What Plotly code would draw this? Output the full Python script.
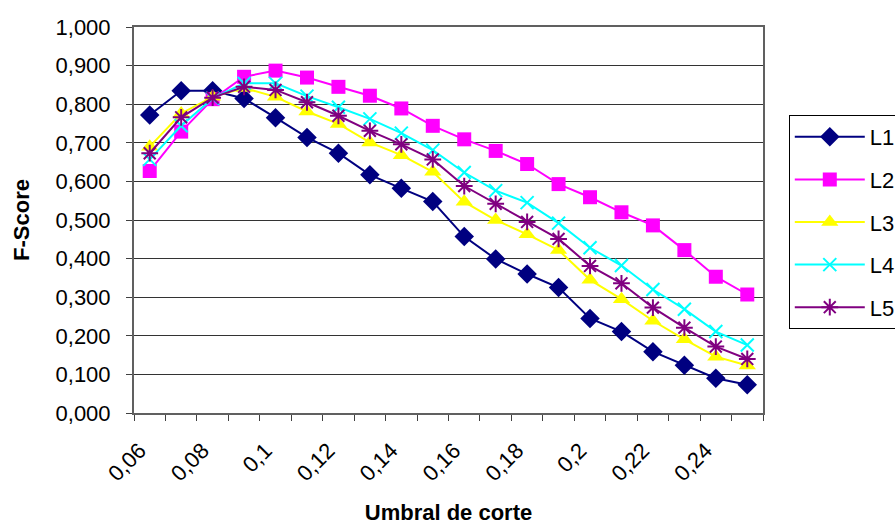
import plotly.graph_objects as go

# Cut-off thresholds (x) and F-Score per list
umbral = [0.06, 0.07, 0.08, 0.09, 0.10, 0.11, 0.12, 0.13, 0.14, 0.15,
          0.16, 0.17, 0.18, 0.19, 0.20, 0.21, 0.22, 0.23, 0.24, 0.25]

l1 = [0.772, 0.835, 0.835, 0.815, 0.765, 0.714, 0.673, 0.617, 0.582, 0.548,
      0.457, 0.399, 0.360, 0.325, 0.245, 0.211, 0.159, 0.124, 0.090, 0.073]
l2 = [0.627, 0.729, 0.813, 0.871, 0.887, 0.869, 0.845, 0.822, 0.789, 0.744,
      0.709, 0.679, 0.645, 0.593, 0.559, 0.520, 0.486, 0.422, 0.353, 0.307]
l3 = [0.690, 0.776, 0.819, 0.842, 0.819, 0.781, 0.749, 0.701, 0.668, 0.625,
      0.547, 0.500, 0.463, 0.422, 0.345, 0.295, 0.239, 0.191, 0.146, 0.123]
l4 = [0.657, 0.744, 0.815, 0.854, 0.854, 0.821, 0.792, 0.762, 0.725, 0.681,
      0.623, 0.576, 0.545, 0.492, 0.428, 0.382, 0.320, 0.269, 0.211, 0.176]
l5 = [0.673, 0.766, 0.817, 0.845, 0.837, 0.805, 0.770, 0.731, 0.696, 0.657,
      0.588, 0.542, 0.495, 0.451, 0.381, 0.336, 0.273, 0.221, 0.172, 0.140]

tick_vals = [0.06, 0.08, 0.10, 0.12, 0.14, 0.16, 0.18, 0.20, 0.22, 0.24]
tick_text = ["0,06", "0,08", "0,1", "0,12", "0,14", "0,16", "0,18", "0,2", "0,22", "0,24"]

series = [
    ("L1", l1, "#000080", dict(symbol="diamond", size=15)),
    ("L2", l2, "#FF00FF", dict(symbol="square", size=14)),
    ("L3", l3, "#FFFF00", dict(symbol="triangle-up", size=15)),
    ("L4", l4, "#00FFFF", dict(symbol="x-thin-open", size=13, line=dict(width=2))),
    ("L5", l5, "#800080", dict(symbol="asterisk-open", size=14, line=dict(width=2))),
]

FONT = "Liberation Sans, Arial, sans-serif"

fig = go.Figure()
for name, vals, color, mk in series:
    marker = dict(color=color, **mk)
    if "line" in marker:
        marker["line"] = dict(color=color, **mk["line"])
    fig.add_trace(go.Scatter(
        x=umbral, y=vals, name=name, legendgroup=name, mode="lines+markers",
        line=dict(color=color, width=2), marker=marker,
    ))

fig.update_layout(
    width=895, height=525,
    margin=dict(l=134, r=132, t=27, b=112, autoexpand=False),
    paper_bgcolor="white", plot_bgcolor="white",
    separators=",.",
    font=dict(family=FONT, size=21, color="black"),
    showlegend=True,
    legend=dict(
        x=1.041, y=0.772, xanchor="left", yanchor="top",
        bordercolor="black", borderwidth=1, bgcolor="white",
        font=dict(family=FONT, size=22),
        itemwidth=70, tracegroupgap=11,
    ),
    xaxis=dict(
        range=[0.055, 0.255], tickmode="array", tickvals=tick_vals, ticktext=tick_text,
        tickangle=-45, ticks="", showgrid=False, zeroline=False,
        showline=True, linecolor="#606060", linewidth=2, mirror=True,
        tickfont=dict(family=FONT, size=22),
        ticklabelstandoff=14, ticklabelshift=-10,
        minor=dict(tick0=0.055, dtick=0.01, ticks="outside", ticklen=6,
                   tickcolor="#404040", tickwidth=1, showgrid=False),
        title=dict(text="<b>Umbral de corte</b>", font=dict(family=FONT, size=22), standoff=28),
    ),
    yaxis=dict(
        range=[0, 1.0], dtick=0.1, tick0=0, tickformat=".3f",
        ticks="outside", ticklen=6, tickcolor="#404040",
        showgrid=True, gridcolor="#333333", gridwidth=1, zeroline=False,
        showline=True, linecolor="#606060", linewidth=2, mirror=True,
        tickfont=dict(family=FONT, size=22), ticklabelstandoff=11,
        title=dict(text="<b>F-Score</b>", font=dict(family=FONT, size=22), standoff=20),
    ),
)

fig.write_html("out.html")
